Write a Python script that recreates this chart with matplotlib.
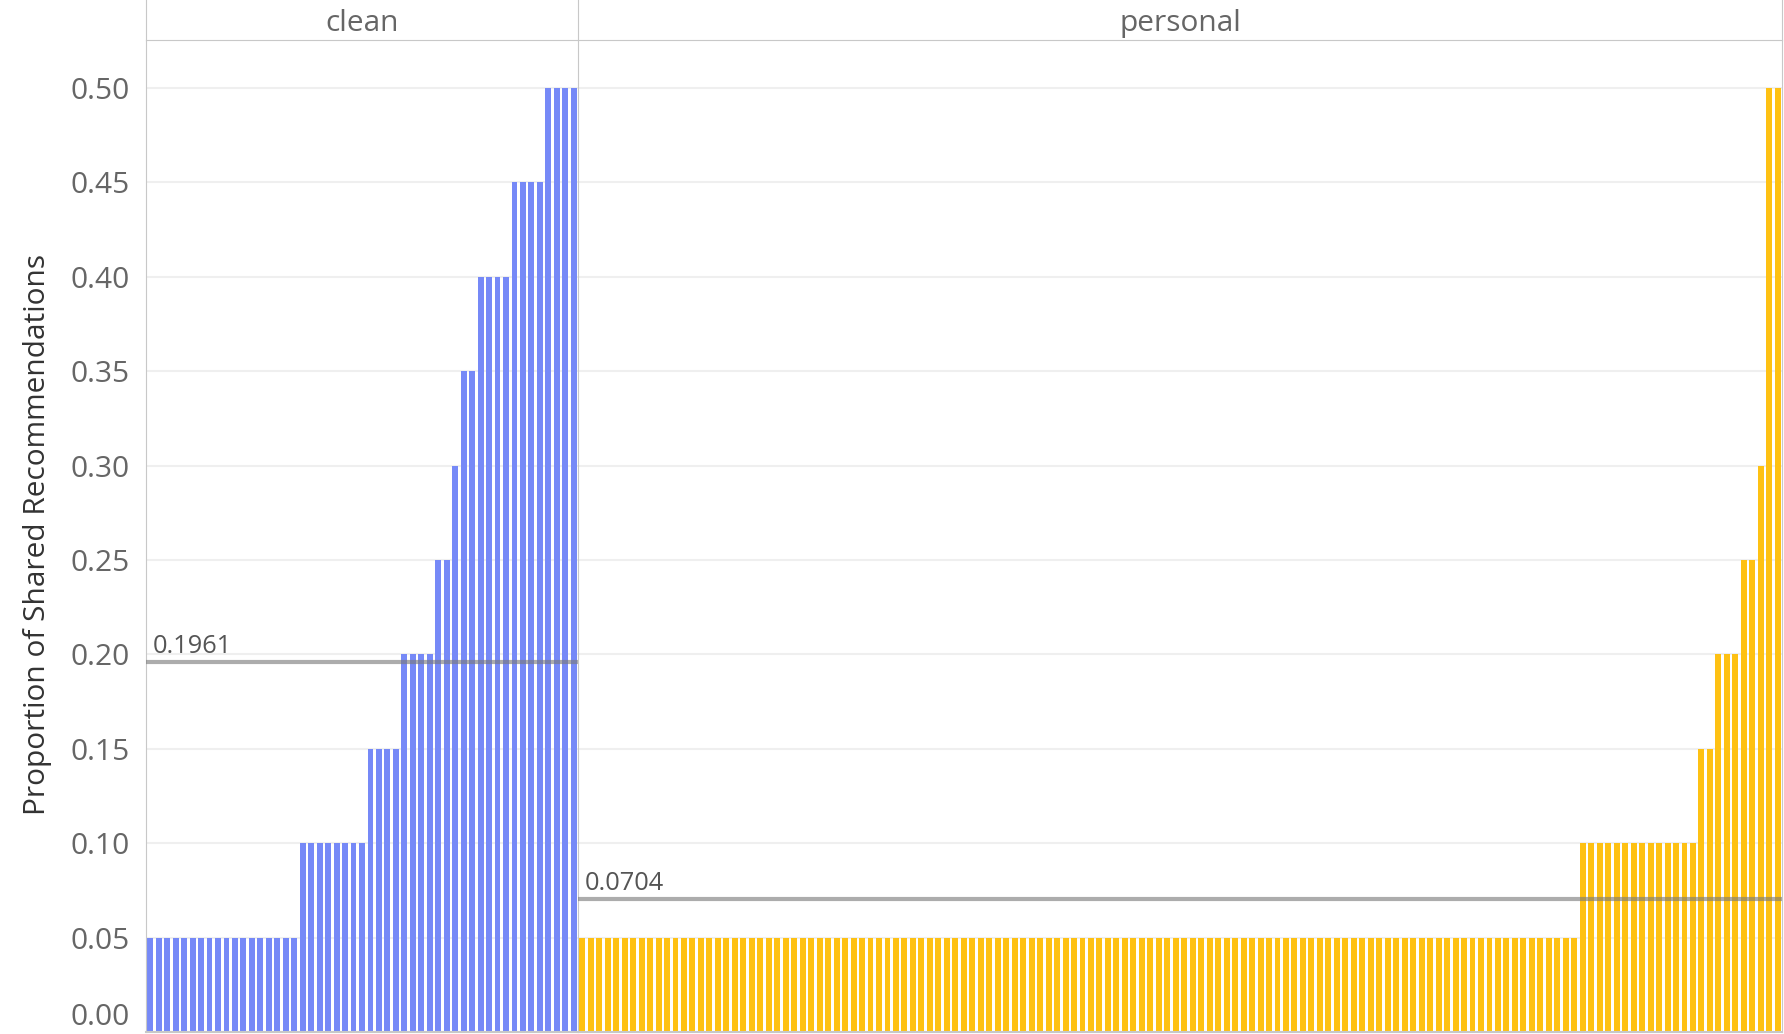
import numpy as np
import matplotlib.pyplot as plt

plt.rcParams['font.family'] = ['Open Sans', 'DejaVu Sans']

# data: bar heights (sorted) and how many bars sit at each height
panels = ['clean', 'personal']
clean_levels = [0.05, 0.10, 0.15, 0.20, 0.25, 0.30, 0.35, 0.40, 0.45, 0.50]
clean_counts = [18, 8, 4, 4, 2, 1, 2, 4, 4, 4]
personal_levels = [0.05, 0.10, 0.15, 0.20, 0.25, 0.30, 0.50]
personal_counts = [118, 14, 2, 3, 2, 1, 2]
colors = ['#7689f7', '#fec113']
yticks = [0.00, 0.05, 0.10, 0.15, 0.20, 0.25, 0.30, 0.35, 0.40, 0.45, 0.50]

clean_values = np.repeat(clean_levels, clean_counts)
personal_values = np.repeat(personal_levels, personal_counts)
series = [clean_values, personal_values]

W, H = 1784, 1034
fig = plt.figure(figsize=(W / 100, H / 100), dpi=100)

border = '#c8c8c8'
x_edges = [146, 578, 1782]  # panel borders in pixels
plot_bottom = 2 / H
plot_top = 1 - 40 / H
ytop = 0.5 * (1032 - 40) / (1032 - 88)

for i, (name, vals) in enumerate(zip(panels, series)):
    x0 = x_edges[i] / W
    w = (x_edges[i + 1] - x_edges[i]) / W
    ax = fig.add_axes([x0, plot_bottom, w, plot_top - plot_bottom])
    x = np.arange(len(vals))
    ax.bar(x, vals, width=0.7, color=colors[i], zorder=2)
    ax.set_xlim(-0.5, len(vals) - 0.5)
    ax.set_ylim(0, ytop)
    ax.set_yticks(yticks)
    ax.grid(axis='y', color='#efefef', lw=1.5, zorder=0)
    ax.set_axisbelow(True)
    ax.set_xticks([])
    ax.tick_params(axis='y', length=0, pad=11.5, labelsize=21.5, labelcolor='#666666')
    for s in ['top', 'right']:
        ax.spines[s].set_visible(False)
    ax.spines['left'].set_color(border)
    ax.spines['bottom'].set_color(border)
    ax.spines['bottom'].set_linewidth(1.5)
    if i == len(panels) - 1:
        ax.spines['right'].set_visible(True)
        ax.spines['right'].set_color(border)
    if i == 0:
        ax.set_yticklabels(['%.2f' % t for t in yticks])
        ax.get_yticklabels()[0].set_va('bottom')
    else:
        ax.set_yticklabels([])

    # average reference line
    avg = vals.mean()
    ax.axhline(avg, color='#7a7a7a', alpha=0.62, lw=3, zorder=3)
    ax.annotate('%.4f' % avg, xy=(0, avg), xycoords=('axes fraction', 'data'),
                xytext=(5, 6.5), textcoords='offset points', va='baseline',
                fontsize=18.3, color='#555555')

    # panel header
    hax = fig.add_axes([x0, plot_top, w, 1 - plot_top])
    hax.set_xticks([])
    hax.set_yticks([])
    for s in ['top', 'right']:
        hax.spines[s].set_visible(False)
    hax.spines['left'].set_color(border)
    hax.spines['bottom'].set_color(border)
    if i == len(panels) - 1:
        hax.spines['right'].set_visible(True)
        hax.spines['right'].set_color(border)
    hax.text(0.5, 0.42, name, ha='center', va='center', fontsize=21.5,
             color='#666666', transform=hax.transAxes)

fig.text(37.5 / W, 1 - 534 / H, 'Proportion of Shared Recommendations',
         rotation=90, ha='center', va='center', fontsize=21.5, color='#333333')

fig.savefig('out.png', dpi=100)
